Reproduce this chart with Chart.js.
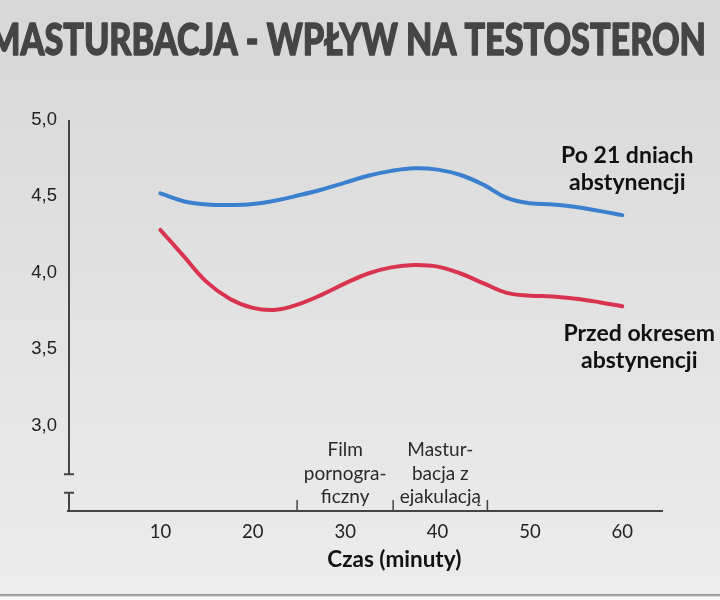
<!DOCTYPE html>
<html>
<head>
<meta charset="utf-8">
<script src="https://cdn.jsdelivr.net/npm/chart.js@4.4.0/dist/chart.umd.min.js"></script>
<style>
  html, body { margin: 0; padding: 0; }
  body { width: 720px; height: 600px; overflow: hidden; position: relative;
         background: linear-gradient(to bottom, #d7d7d7 0px, #e2e2e2 300px, #ececec 594px); }
  #wrap { position: absolute; left: 0; top: 0; width: 720px; height: 600px; }
  #frame { position: absolute; left: 0; top: 594px; width: 720px; height: 6px;
           background: linear-gradient(to bottom, #8c8c8c 0px, #b5b5b5 2px, #f7f7f7 3px, #fbfbfb 6px); }
</style>
</head>
<body>
<div id="wrap"><canvas id="c" width="720" height="600"></canvas></div>
<div id="frame"></div>
<script>
// ---- data ----
const chartTitle = "MASTURBACJA - WPŁYW NA TESTOSTERON";
const minutes = [10, 12.5, 15, 17.5, 20, 22.5, 25, 27.5, 30, 32.5, 35, 37.5, 40, 42.5, 45, 47.5, 50, 52.5, 55, 57.5, 60];
const afterAbstinence = [4.52, 4.468, 4.447, 4.443, 4.45, 4.473, 4.507, 4.545, 4.59, 4.635, 4.667, 4.684, 4.675, 4.64, 4.575, 4.49, 4.455, 4.447, 4.43, 4.405, 4.377];
const beforeAbstinence = [4.28, 4.11, 3.94, 3.83, 3.77, 3.757, 3.795, 3.857, 3.93, 3.995, 4.035, 4.05, 4.04, 3.995, 3.93, 3.868, 3.85, 3.845, 3.83, 3.807, 3.78];
const seriesNames = [["Po 21 dniach", "abstynencji"], ["Przed okresem", "abstynencji"]];
const xTickValues = [10, 20, 30, 40, 50, 60];
const yTickValues = [3.0, 3.5, 4.0, 4.5, 5.0];
const xAxisTitle = "Czas (minuty)";
const eventBoundaries = [24.8, 35.2, 45.4];
const eventLabels = [["Film", "pornogra-", "ficzny"], ["Mastur-", "bacja z", "ejakulacją"]];

const BLUE = "#3b7fcf";
const RED = "#d9344f";
const AXIS = "#444444";

const decor = {
  id: "decor",
  afterDraw(chart) {
    const ctx = chart.ctx;
    const xs = chart.scales.x, ys = chart.scales.y;
    const area = chart.chartArea;
    ctx.save();
    // title (drawn condensed to mimic original typeface)
    ctx.fillStyle = "#454545";
    ctx.strokeStyle = "#454545";
    ctx.lineWidth = 1.4;
    ctx.lineJoin = "round";
    ctx.font = "900 43px Lato";
    ctx.textAlign = "center";
    ctx.textBaseline = "alphabetic";
    ctx.fillText(chartTitle, 347, 55, 718);
    ctx.strokeText(chartTitle, 347, 55, 718);

    // broken y axis
    const axX = area.left + 1;
    ctx.strokeStyle = AXIS;
    ctx.lineWidth = 2;
    const yTop = ys.getPixelForValue(5.0);
    const yBreak1 = ys.getPixelForValue(2.68);
    const yBreak2 = ys.getPixelForValue(2.56);
    ctx.beginPath();
    ctx.moveTo(axX, yTop); ctx.lineTo(axX, yBreak1);
    ctx.moveTo(axX - 5, yBreak1); ctx.lineTo(axX + 5, yBreak1);
    ctx.moveTo(axX - 5, yBreak2); ctx.lineTo(axX + 5, yBreak2);
    ctx.moveTo(axX, yBreak2); ctx.lineTo(axX, area.bottom);
    ctx.stroke();

    // event boundary ticks
    ctx.lineWidth = 1.5;
    ctx.beginPath();
    eventBoundaries.forEach(v => {
      const px = xs.getPixelForValue(v);
      ctx.moveTo(px, area.bottom - 11); ctx.lineTo(px, area.bottom);
    });
    ctx.stroke();

    // event labels
    ctx.fillStyle = "#2a2a2a";
    ctx.font = "19px Lato";
    ctx.textBaseline = "middle";
    ctx.textAlign = "center";
    eventLabels.forEach((lines, i) => {
      const cx = xs.getPixelForValue((eventBoundaries[i] + eventBoundaries[i + 1]) / 2);
      lines.forEach((t, j) => ctx.fillText(t, cx, area.bottom - 61 + j * 23.5));
    });

    // series labels anchored to the last point of each line
    ctx.fillStyle = "#111111";
    ctx.font = "bold 23px Lato";
    const lastX = minutes[minutes.length - 1];
    const bx = xs.getPixelForValue(lastX), by = ys.getPixelForValue(afterAbstinence[afterAbstinence.length - 1]);
    ctx.fillText(seriesNames[0][0], bx + 5, by - 60);
    ctx.fillText(seriesNames[0][1], bx + 5, by - 33);
    const ry = ys.getPixelForValue(beforeAbstinence[beforeAbstinence.length - 1]);
    ctx.fillText(seriesNames[1][0], bx + 17, ry + 27);
    ctx.fillText(seriesNames[1][1], bx + 17, ry + 54);

    // x axis title
    ctx.font = "bold 22.5px Lato";
    ctx.fillStyle = "#111111";
    const mid = (xTickValues[0] + xTickValues[xTickValues.length - 1]) / 2;
    ctx.fillText(xAxisTitle, xs.getPixelForValue(mid) + 3, 560);
    ctx.restore();
  }
};

new Chart(document.getElementById("c"), {
  type: "line",
  data: {
    datasets: [
      { label: seriesNames[0].join(" "), data: minutes.map((m, i) => ({ x: m, y: afterAbstinence[i] })),
        borderColor: BLUE, borderWidth: 4, pointRadius: 0, tension: 0.4, borderCapStyle: "round" },
      { label: seriesNames[1].join(" "), data: minutes.map((m, i) => ({ x: m, y: beforeAbstinence[i] })),
        borderColor: RED, borderWidth: 4, pointRadius: 0, tension: 0.4, borderCapStyle: "round" }
    ]
  },
  options: {
    responsive: false,
    animation: false,
    devicePixelRatio: 1,
    layout: { padding: { top: 120, right: 58, left: 0, bottom: 0 } },
    plugins: { legend: { display: false }, title: { display: false }, tooltip: { enabled: false } },
    scales: {
      x: {
        type: "linear", min: 0, max: 64.3,
        grid: { display: false, drawTicks: false },
        border: { display: true, color: AXIS, width: 2 },
        afterBuildTicks: s => { s.ticks = xTickValues.map(v => ({ value: v })); },
        afterFit: s => { s.height = 89; },
        ticks: { padding: 10, color: "#222", font: { family: "Lato", size: 18.5 }, maxRotation: 0, autoSkip: false }
      },
      y: {
        min: 2.44, max: 5.0,
        grid: { display: false, drawTicks: false },
        border: { display: false },
        afterBuildTicks: s => { s.ticks = yTickValues.map(v => ({ value: v })); },
        afterFit: s => { s.width = 68; },
        ticks: { padding: 11, color: "#222", font: { family: "Liberation Sans", size: 18.5 },
                 callback: v => v.toFixed(1).replace(".", ",") }
      }
    }
  },
  plugins: [decor]
});
</script>
</body>
</html>
